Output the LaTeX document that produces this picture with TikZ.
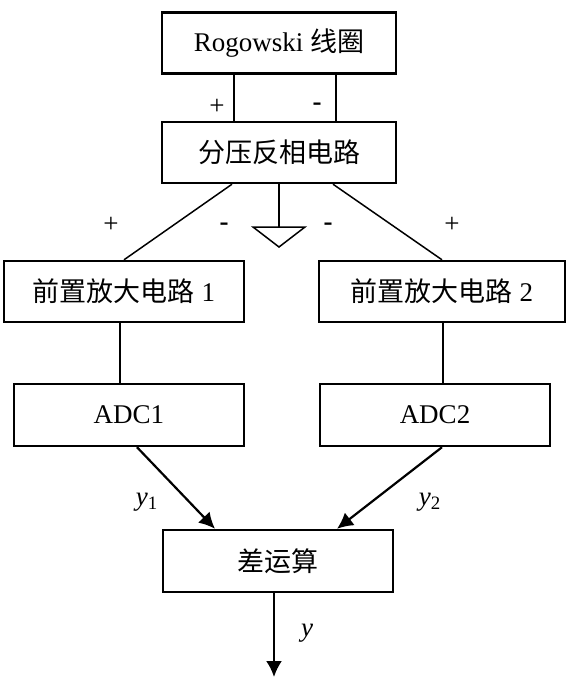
\documentclass[tikz,border=0pt]{standalone}
\usepackage{fontspec}
\setmainfont{Liberation Serif}
\newfontfamily\cjk{Noto Sans CJK SC}
\usepackage{tikz}
\usetikzlibrary{arrows.meta}

\begin{document}
\begin{tikzpicture}[x=0.5pt,y=-0.5pt,font=\fontsize{13.5}{16}\selectfont]
	    \tikzstyle{block}=[draw,line width=1.2pt,minimum height=30.5pt,inner sep=0pt]
	    \tikzstyle{wire}=[line width=0.75pt]
	    \tikzstyle{sig}=[line width=1.1pt,-{Latex[length=8pt,width=8pt]}]
	    \tikzstyle{pol}=[inner sep=0pt]
	    \useasboundingbox (0,0) rectangle (572,684);
 
	    \node[block,minimum width=117pt](rog) at (279,43){Rogowski {\cjk 线圈}};
	    \node[block,minimum width=117pt](fenya) at (279,152.5){\cjk 分压反相电路};
 
	    \node[block,minimum width=120pt](pre1) at (124,291.5){{\cjk 前置放大电路} 1};
	    \node[block,minimum width=123pt](pre2) at (442,291.5){{\cjk 前置放大电路} 2};
 
	    \node[block,minimum width=115pt,minimum height=31pt](adc1) at (129,415){ADC1};
	    \node[block,minimum width=115pt,minimum height=31pt](adc2) at (435,415){ADC2};
 
	    \node[block,minimum width=115pt,minimum height=31pt](diff) at (278,561){\cjk 差运算};
 
	    \coordinate (gnd) at (279,227);
	    \coordinate (out) at (274,677);
 
	    % polarity marks
	    \node[pol](p1) at (217,107){+};
	    \node[pol](m1) at (317,107){\textbf{-}};
	    \node[pol](p2) at (111,225){+};
	    \node[pol](m2) at (224,227){\textbf{-}};
	    \node[pol](m3) at (328,227){\textbf{-}};
	    \node[pol](p3) at (452,225){+};
 
	    \node(ly1) at (147,502){\textit{y}\textsubscript{1}};
	    \node(ly2) at (430,502){\textit{y}\textsubscript{2}};
	    \node(ly) at (307,633){\textit{y}};
 
        \draw[wire] ([xshift=-22.5pt]rog.south) -- ([xshift=-22.5pt]fenya.north);
	    \draw[wire] ([xshift=28.5pt]rog.south) -- ([xshift=28.5pt]fenya.north);
 
	    \draw[wire] ([xshift=-23.5pt]fenya.south) -- (pre1.north);
	    \draw[wire] ([xshift=27pt]fenya.south) -- (pre2.north);
 
	    % ground
	    \draw[wire] (fenya.south) -- (gnd);
	    \draw[wire] ([xshift=-13pt]gnd) -- ([xshift=13pt]gnd) -- ([yshift=-10pt]gnd) -- cycle;
 
	    \draw[wire] ([xshift=-2pt]pre1.south) -- ([xshift=-2pt]pre1.south |- adc1.north);
	    \draw[wire] ([xshift=0.5pt]pre2.south) -- ([xshift=0.5pt]pre2.south |- adc2.north);
 
	    \draw[sig] ([xshift=4pt]adc1.south) -- ([xshift=-31.5pt]diff.north);
	    \draw[sig] ([xshift=3.5pt]adc2.south) -- ([xshift=29.5pt]diff.north);
	    \draw[sig] ([xshift=-2pt]diff.south) -- (out);
	\end{tikzpicture}
\end{document}
